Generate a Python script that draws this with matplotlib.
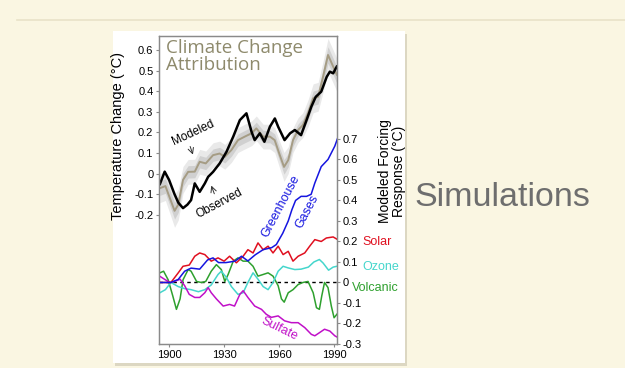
import matplotlib.pyplot as plt
from matplotlib.patches import Rectangle
from matplotlib.lines import Line2D

# observed and modeled temperature change (left axis, degC)
obs_years = [1895, 1897.6, 1900, 1903, 1905, 1907.6, 1910, 1912, 1914, 1916.7, 1919.5, 1921.3,
             1924, 1927.6, 1931.3, 1935, 1938.6, 1942.2, 1945, 1946.7, 1949.5, 1952, 1955,
             1957.7, 1959.5, 1963, 1966, 1968.6, 1972, 1975, 1977.6, 1980, 1983, 1986, 1987.7,
             1989.5, 1991.5]
observed = [-0.05, 0.01, -0.03, -0.10, -0.14, -0.167, -0.15, -0.128, -0.047, -0.088, -0.047, -0.015,
            0.009, 0.05, 0.106, 0.18, 0.26, 0.293, 0.203, 0.163, 0.196, 0.155, 0.228,
            0.268, 0.228, 0.163, 0.196, 0.212, 0.187, 0.26, 0.325, 0.373, 0.398, 0.47, 0.495,
            0.487, 0.52]

model_years = [1895, 1898, 1900.5, 1903, 1905, 1907.6, 1910.4, 1914, 1916.7, 1920, 1924, 1927.6,
               1930.4, 1934, 1937.6, 1941.3, 1945, 1947.6, 1951.3, 1955, 1957.6, 1960.4, 1962.7,
               1965, 1967.6, 1970.4, 1973, 1975.8, 1978.6, 1981.3, 1984, 1986.7, 1989.5, 1991.5]
modeled = [-0.07, -0.06, -0.12, -0.18, -0.15, -0.03, 0.009, 0.01, 0.058, 0.05, 0.09, 0.098,
           0.082, 0.115, 0.163, 0.18, 0.196, 0.22, 0.18, 0.18, 0.163, 0.09, 0.033,
           0.066, 0.163, 0.212, 0.236, 0.293, 0.366, 0.373, 0.47, 0.576, 0.52, 0.48]
model_spread = [0.07, 0.07, 0.075, 0.08, 0.075, 0.065, 0.06, 0.06, 0.06, 0.06, 0.06, 0.06,
                0.06, 0.06, 0.06, 0.06, 0.06, 0.06, 0.06, 0.06, 0.06, 0.065, 0.07,
                0.065, 0.06, 0.06, 0.06, 0.065, 0.07, 0.07, 0.075, 0.08, 0.08, 0.08]

# modeled forcing responses (right axis, degC)
ghg_years = [1895, 1901, 1905, 1908.5, 1912, 1916.7, 1921, 1924, 1927, 1931, 1936, 1939.5, 1943,
             1947, 1951.3, 1956, 1958.5, 1962, 1965, 1967, 1969, 1972, 1975, 1977.5, 1979.5,
             1983, 1986.7, 1990.4, 1992]
greenhouse = [0, 0, 0.015, 0.055, 0.07, 0.065, 0.11, 0.12, 0.097, 0.097, 0.104, 0.128, 0.105,
              0.135, 0.16, 0.17, 0.185, 0.24, 0.30, 0.355, 0.40, 0.42, 0.42, 0.43, 0.485,
              0.565, 0.60, 0.665, 0.705]

solar_years = [1895, 1901, 1905, 1907.6, 1911, 1914, 1916.7, 1919.5, 1923, 1926.7, 1930, 1933,
               1936.7, 1940.4, 1943, 1945.8, 1948.5, 1951.3, 1954, 1956.7, 1959.5, 1962.2, 1965,
               1967.6, 1970.4, 1974, 1976.7, 1979.5, 1983, 1985.8, 1989.5, 1992]
solar = [0, 0, 0.047, 0.079, 0.085, 0.128, 0.144, 0.136, 0.104, 0.12, 0.104, 0.128,
         0.096, 0.128, 0.16, 0.144, 0.193, 0.16, 0.177, 0.144, 0.177, 0.136, 0.152,
         0.104, 0.128, 0.144, 0.177, 0.209, 0.2, 0.217, 0.222, 0.209]

ozone_years = [1895, 1898, 1901, 1905, 1908.5, 1912, 1916, 1919.5, 1923, 1926.7, 1928.5, 1931.3,
               1934, 1937.6, 1940.4, 1943, 1945.8, 1948.5, 1951.3, 1954, 1956.7, 1959.5, 1962.2,
               1965, 1968.6, 1972, 1976, 1979, 1982, 1984, 1987, 1989.5, 1992]
ozone = [-0.05, -0.035, 0, -0.02, -0.03, -0.035, -0.045, -0.035, -0.012, 0.039, 0.055, 0.024,
         -0.02, -0.058, -0.05, 0, 0.047, 0.016, -0.02, -0.035, 0, 0.055, 0.079,
         0.071, 0.063, 0.065, 0.075, 0.1, 0.112, 0.095, 0.06, 0.075, 0.08]

volc_years = [1895, 1897, 1899.5, 1902, 1904, 1906, 1907.6, 1910.4, 1912, 1915, 1917.6, 1920,
              1923, 1925.8, 1928.5, 1930.4, 1932.2, 1935, 1937.6, 1940.4, 1943, 1945.8, 1948.5,
              1951.3, 1954, 1956.7, 1959.5, 1961.3, 1962.8, 1965, 1967.6, 1970.4, 1973, 1975.8,
              1978.6, 1980.4, 1982, 1983.3, 1984.8, 1986.7, 1988.5, 1990, 1992]
volcanic = [0.047, 0.055, 0.013, -0.065, -0.131, -0.08, 0.013, 0.063, 0.055, 0.005, 0, 0.005,
            0.055, 0.087, 0.063, 0.005, 0.039, 0.104, 0.12, 0.104, 0.104, 0.079, 0.031,
            0.039, 0.047, 0.031, -0.016, -0.08, -0.096, -0.05, -0.035, -0.01, 0, 0.005,
            -0.05, -0.123, -0.131, -0.065, 0, -0.025, -0.115, -0.172, -0.15]

sulf_years = [1895, 1898, 1900.5, 1903, 1906, 1908.5, 1911, 1914, 1916.7, 1919.5, 1921.3, 1923,
              1925.8, 1929.5, 1933, 1935.7, 1938.6, 1940.4, 1943, 1946.7, 1950.4, 1953, 1955.8,
              1959.5, 1963, 1966.7, 1970.4, 1974, 1977.6, 1979.5, 1982, 1984.8, 1987.7, 1990.4, 1992]
sulfate = [0.03, 0.013, 0, 0.005, 0.016, -0.016, -0.058, -0.073, -0.073, -0.05, -0.025, -0.05,
           -0.08, -0.115, -0.107, -0.115, -0.058, -0.04, -0.073, -0.115, -0.131, -0.155, -0.17,
           -0.163, -0.187, -0.196, -0.196, -0.22, -0.253, -0.26, -0.245, -0.228, -0.237, -0.26, -0.268]

x_ticks = [1900, 1930, 1960, 1990]
left_ticks = [-0.2, -0.1, 0, 0.1, 0.2, 0.3, 0.4, 0.5, 0.6]
right_ticks = [-0.3, -0.2, -0.1, 0, 0.1, 0.2, 0.3, 0.4, 0.5, 0.6, 0.7]

W, H = 625, 368
plt.rcParams['font.family'] = ['Liberation Sans', 'DejaVu Sans']


def fx(x):
    return x / W


def fy(y):
    return 1 - y / H


fig = plt.figure(figsize=(W / 100, H / 100), dpi=100)
fig.patch.set_facecolor('#faf6e2')

# slide decoration: rule line, white card with a soft shadow
fig.add_artist(Line2D([fx(17), 1], [fy(20), fy(20)], color='#e8e2c8', lw=1.2))
fig.add_artist(Rectangle((fx(115), fy(366)), (405 - 113) / W, (363 - 31) / H,
                         facecolor='#dcd7c2', edgecolor='none', zorder=0))
fig.add_artist(Rectangle((fx(113), fy(363)), (405 - 113) / W, (363 - 31) / H,
                         facecolor='white', edgecolor='none', zorder=0))

ax = fig.add_axes([fx(159), fy(344), 178 / W, 308 / H])
ax2 = ax.twinx()

ax.set_xlim(1894.5, 1991.6)
ax.set_ylim(-0.826, 0.668)
ax2.set_ylim(-0.295, 1.202)

# modeled envelope
lo_out = [m - s for m, s in zip(modeled, model_spread)]
hi_out = [m + s for m, s in zip(modeled, model_spread)]
lo_in = [m - s * 0.5 for m, s in zip(modeled, model_spread)]
hi_in = [m + s * 0.5 for m, s in zip(modeled, model_spread)]
ax.fill_between(model_years, lo_out, hi_out, color='#e9e9e9', lw=0)
ax.fill_between(model_years, lo_in, hi_in, color='#d0d0d0', lw=0)
ax.plot(model_years, modeled, color='#a59c84', lw=1.4)
ax.plot(obs_years, observed, color='black', lw=1.8)

# forcings
ax2.axhline(0, color='black', lw=1, ls=(0, (2.5, 2.5)))
ax2.plot(volc_years, volcanic, color='#2ea02e', lw=1.1)
ax2.plot(ozone_years, ozone, color='#45d6cc', lw=1.1)
ax2.plot(sulf_years, sulfate, color='#c010c8', lw=1.1)
ax2.plot(solar_years, solar, color='#e01020', lw=1.1)
ax2.plot(ghg_years, greenhouse, color='#1515e0', lw=1.1)

for a in (ax, ax2):
    for sp in a.spines.values():
        sp.set_color('#8a8a8a')
        sp.set_linewidth(0.9)
    a.tick_params(length=2.5, width=0.8, color='#8a8a8a', labelsize=8, pad=1.5)

ax.set_xticks(x_ticks)
ax.set_yticks(left_ticks)
ax.set_yticklabels(['-0.2', '-0.1', '0', '0.1', '0.2', '0.3', '0.4', '0.5', '0.6'])
ax2.set_yticks(right_ticks)
ax2.set_yticklabels(['-0.3', '-0.2', '-0.1', '0', '0.1', '0.2', '0.3', '0.4', '0.5', '0.6', '0.7'])

ax.set_ylabel('Temperature Change (°C)', fontsize=10.5, labelpad=2)
ax.yaxis.set_label_coords(-0.19, 0.675)
ax2.set_ylabel('Modeled Forcing\nResponse (°C)', fontsize=10, linespacing=1.0)
ax2.yaxis.set_label_coords(1.23, 0.56)

# annotations in the plot
ax.text(0.04, 0.99, 'Climate Change\nAttribution', transform=ax.transAxes, va='top', ha='left',
        fontsize=13.5, color='#8e8a6c', linespacing=0.92, family=['Open Sans', 'DejaVu Sans'])
ax.text(1913, 0.2, 'Modeled', fontsize=8.5, rotation=25, ha='center', va='center')
ax.annotate('', xy=(1913.5, 0.08), xytext=(1911, 0.145),
            arrowprops=dict(arrowstyle='->', lw=0.7, color='#333333'))
ax.text(1927.5, -0.145, 'Observed', fontsize=8.5, rotation=28, ha='center', va='center')
ax.annotate('', xy=(1922.5, -0.045), xytext=(1925.2, -0.11),
            arrowprops=dict(arrowstyle='->', lw=0.7, color='#333333'))
ax2.text(1961, 0.37, 'Greenhouse', fontsize=9, rotation=62, color='#1515e0', ha='center', va='center')
ax2.text(1975.5, 0.345, 'Gases', fontsize=9, rotation=62, color='#1515e0', ha='center', va='center')
ax2.text(1960, -0.225, 'Sulfate', fontsize=9, rotation=-26, color='#c010c8', ha='center', va='center')

# series labels outside on the right
fig.text(fx(362), fy(242), 'Solar', fontsize=9, color='#e01020', va='center')
fig.text(fx(362), fy(267), 'Ozone', fontsize=9, color='#45d6cc', va='center')
fig.text(fx(352), fy(288), 'Volcanic', fontsize=9, color='#2ea02e', va='center')

fig.text(fx(414), fy(198), 'Simulations', fontsize=24.5, color='#6e6e6e', va='center', ha='left')

plt.savefig('out.png', dpi=100, facecolor=fig.get_facecolor())
plt.close()
